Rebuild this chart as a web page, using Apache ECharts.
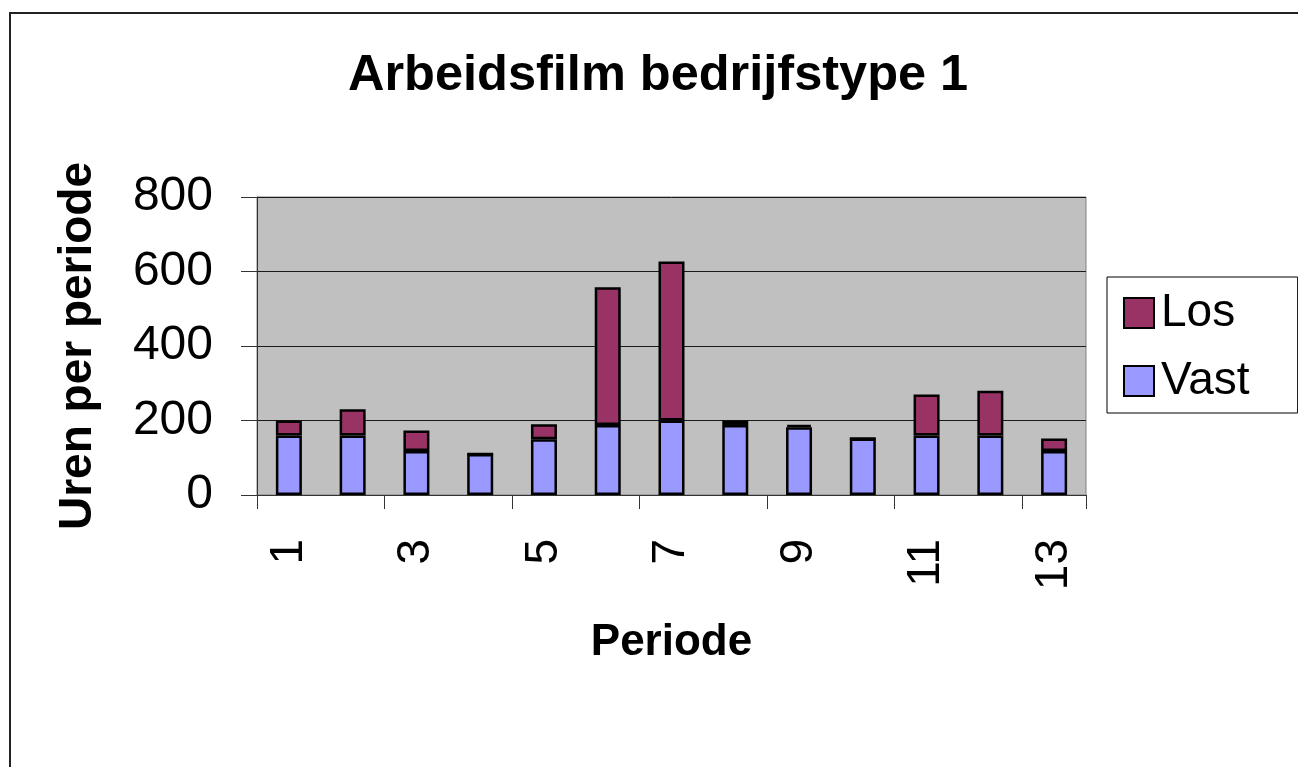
<!DOCTYPE html>
<html>
<head>
<meta charset="utf-8">
<script src="https://cdn.jsdelivr.net/npm/echarts@6/dist/echarts.min.js"></script>
<style>
  html, body { margin: 0; padding: 0; background: #fff; }
  #main { width: 1298px; height: 767px; }
</style>
</head>
<body>
<div id="main"></div>
<script>
// periodes en uren
var periodes = ['1', '2', '3', '4', '5', '6', '7', '8', '9', '10', '11', '12', '13'];
var vast = [160, 160, 118, 110, 150, 188, 200, 188, 182, 152, 160, 160, 118];
var los = [40, 70, 55, 0, 40, 370, 427, 12, 6, 0, 110, 120, 34];
var yTicks = [0, 200, 400, 600, 800];

var font = 'Liberation Sans, Arial, sans-serif';
var chart = echarts.init(document.getElementById('main'));

var option = {
  animation: false,
  backgroundColor: '#fff',
  textStyle: { fontFamily: font },
  title: {
    text: 'Arbeidsfilm bedrijfstype 1',
    left: 343,
    top: 46,
    textStyle: { fontSize: 50.5, fontWeight: 'bold', color: '#000', fontFamily: font }
  },
  graphic: [{
    type: 'rect',
    shape: { x: 10, y: 13, width: 1400, height: 900 },
    style: { fill: 'none', stroke: '#222', lineWidth: 2 },
    silent: true
  }],
  legend: {
    orient: 'vertical',
    left: 1107,
    top: 277,
    padding: [13, 48, 9, 16],
    itemGap: 22,
    itemWidth: 30,
    itemHeight: 30,
    icon: 'rect',
    borderColor: '#000',
    borderWidth: 1,
    data: ['Los', 'Vast'],
    textStyle: { fontSize: 46, color: '#000', fontFamily: font, padding: [0, 0, 0, 2] }
  },
  grid: {
    left: 257,
    right: 212,
    top: 197,
    bottom: 272,
    show: true,
    backgroundColor: '#c0c0c0',
    borderColor: '#808080',
    borderWidth: 1,
    containLabel: false
  },
  xAxis: {
    type: 'category',
    data: periodes,
    name: 'Periode',
    nameLocation: 'middle',
    nameGap: 126,
    nameTextStyle: { fontSize: 44, fontWeight: 'bold', color: '#000', fontFamily: font },
    axisLine: { lineStyle: { color: '#333', width: 1 } },
    axisTick: { show: true, length: 14, lineStyle: { color: '#333' } },
    axisLabel: {
      interval: 1,
      rotate: 90,
      margin: 44,
      fontSize: 46,
      color: '#000',
      fontFamily: font
    }
  },
  yAxis: {
    type: 'value',
    min: yTicks[0],
    max: yTicks[yTicks.length - 1],
    interval: 200,
    name: 'Uren per periode',
    nameLocation: 'middle',
    nameGap: 156,
    nameTextStyle: { fontSize: 46, fontWeight: 'bold', color: '#000', fontFamily: font },
    axisLine: { show: true, lineStyle: { color: '#333', width: 1 } },
    axisTick: { show: true, length: 16, lineStyle: { color: '#333' } },
    axisLabel: { margin: 44, fontSize: 48, color: '#000', fontFamily: font },
    splitLine: { lineStyle: { color: '#1a1a1a', width: 1 } }
  },
  series: [
    {
      name: 'Vast',
      type: 'bar',
      stack: 'uren',
      data: vast,
      barWidth: 26,
      itemStyle: { color: '#9999ff', borderColor: '#000', borderWidth: 2.5 }
    },
    {
      name: 'Los',
      type: 'bar',
      stack: 'uren',
      data: los,
      barWidth: 26,
      itemStyle: { color: '#993366', borderColor: '#000', borderWidth: 2.5 }
    }
  ]
};

chart.setOption(option);
</script>
</body>
</html>
